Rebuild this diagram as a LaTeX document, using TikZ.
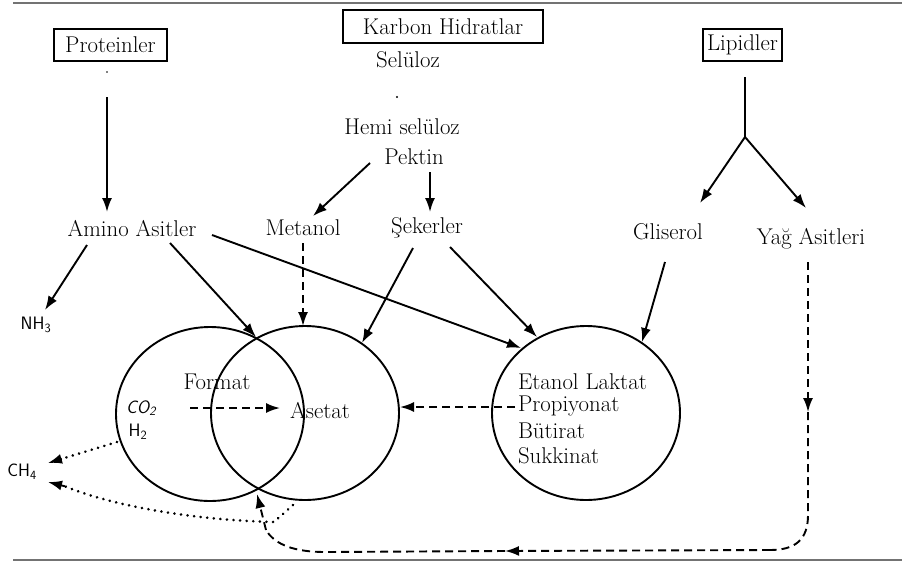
\documentclass[tikz,border=0pt]{standalone}
\usepackage{fontspec}
\usetikzlibrary{arrows.meta,shapes.geometric,calc}
\newcommand{\lblfont}{\fontsize{22.8}{26}\selectfont}
\newcommand{\chemfont}{\sffamily\fontsize{18}{21}\selectfont}
\begin{document}
\begin{tikzpicture}[x=1pt,y=-1pt,
  lbl/.style={font=\lblfont, inner sep=0pt, outer sep=0pt},
  chem/.style={font=\chemfont, inner sep=0pt, outer sep=0pt},
  srcbox/.style={draw, line width=1.3pt, font=\lblfont, inner sep=0pt, outer sep=0pt},
  pool/.style={draw, ellipse, line width=1.9pt, minimum width=188pt, minimum height=174pt, inner sep=0pt, outer sep=0pt},
  tip/.style={-{Latex[length=14pt,width=10pt]}},
  arr/.style={line width=1.9pt, tip},
  ln/.style={line width=1.9pt},
  dsh/.style={line width=1.9pt, dash pattern=on 8pt off 5pt},
  dot/.style={line width=2.8pt, line cap=round, dash pattern=on 0.1pt off 6.5pt},
  rule/.style={draw=black!55, line width=2pt}]
\useasboundingbox (0,0) rectangle (902,563);

% frame rules
\coordinate (rt1) at (13,2.5);  \coordinate (rt2) at (902,2.5);
\coordinate (rb1) at (13,560);  \coordinate (rb2) at (902,560);
\draw[rule] (rt1) -- (rt2);
\draw[rule] (rb1) -- (rb2);

% source boxes
\node[srcbox, minimum width=113pt, minimum height=32pt] (prot) at (110.5,45) {Proteinler};
\node[srcbox, minimum width=200pt, minimum height=33pt] (karb) at (443,26.5) {Karbon Hidratlar};
\node[srcbox, minimum width=79pt, minimum height=32pt] (lip) at (742.5,45) {Lipidler};

% carbohydrate list
\node[lbl] (sel) at (408,60) {Selüloz};
\node[lbl] (hemi) at (402,127) {Hemi selüloz};
\node[lbl] (pek) at (414,157) {Pektin};
\fill (397,97) circle (1.2pt);
\fill (107,72) circle (0.8pt);

% intermediates
\node[lbl] (amino) at (132,229) {Amino Asitler};
\node[lbl] (met) at (303,228) {Metanol};
\node[lbl] (sek) at (427,228) {Şekerler};
\node[lbl] (glis) at (668,232) {Gliserol};
\node[lbl] (yag) at (811,239) {Yağ Asitleri};
\node[chem] (nh3) at (36,325) {NH\textsubscript{3}};

% pools
\node[pool] (cfor) at (210,414) {};
\node[pool] (cace) at (305,413) {};
\node[pool] (cetn) at (586,413) {};

\node[lbl] (form) at (217,382) {Format};
\node[chem, font=\chemfont\slshape] (co2) at (141,408) {CO\textsubscript{2}};
\node[chem] (h2) at (138,432) {H\textsubscript{2}};
\node[lbl] (ase) at (320,411) {Asetat};
\node[lbl, anchor=west] (etl) at (518,382) {Etanol Laktat};
\node[lbl, anchor=west] (pro) at (518,406) {Propiyonat};
\node[lbl, anchor=west] (but) at (518,431) {Bütirat};
\node[lbl, anchor=west] (suk) at (518,456) {Sukkinat};
\node[chem] (ch4) at (22,472) {CH\textsubscript{4}};

% connector end points
\coordinate (pa) at (107,97);   \coordinate (pb) at (107,212);
\coordinate (la) at (745,77);   \coordinate (lf) at (745,137);
\coordinate (lg) at (700,203);  \coordinate (ly) at (806,208);
\coordinate (km1) at (370,163); \coordinate (km2) at (313,216);
\coordinate (ks1) at (430,172); \coordinate (ks2) at (430,212);
\coordinate (an1) at (87,245);  \coordinate (an2) at (45,310);
\coordinate (ax1) at (170,243); \coordinate (xtop) at (256,337);
\coordinate (ae1) at (212,235); \coordinate (ae2) at (521,348);
\coordinate (mt1) at (303,243); \coordinate (mt2) at (303,326);
\coordinate (sa1) at (413,248); \coordinate (sa2) at (362,343);
\coordinate (se1) at (450,247); \coordinate (se2) at (537,337);
\coordinate (ge1) at (665,262); \coordinate (ge2) at (642,342);
\coordinate (ca1) at (190,408); \coordinate (ca2) at (280,408);
\coordinate (ea1) at (515,407); \coordinate (ea2) at (400,407);
\coordinate (d1a) at (117,442); \coordinate (d1b) at (48,463);
\coordinate (d2a) at (293,505); \coordinate (d2b) at (274,522);
\coordinate (d2c) at (48,482);
\coordinate (yg1) at (808,262); \coordinate (yg2) at (808,412);
\coordinate (yg3) at (808,515); \coordinate (yg4) at (770,550);
\coordinate (yg5) at (505,551); \coordinate (yg6) at (325,552);
\coordinate (yg7) at (266,530); \coordinate (xbot) at (257,494);

% protein branch
\draw[arr] (pa) -- (pb);
\draw[arr] (an1) -- (an2);
\draw[arr] (ax1) -- (xtop);
\draw[arr] (ae1) -- (ae2);

% carbohydrate branch
\draw[arr] (km1) -- (km2);
\draw[arr] (ks1) -- (ks2);
\draw[dsh, tip] (mt1) -- (mt2);
\draw[arr] (sa1) -- (sa2);
\draw[arr] (se1) -- (se2);

% lipid branch
\draw[ln] (la) -- (lf);
\draw[arr] (lf) -- (lg);
\draw[arr] (lf) -- (ly);
\draw[arr] (ge1) -- (ge2);

% fatty acids back to the lower junction
\draw[dsh, tip] (yg1) -- (yg2);
\draw[dsh] (yg2) -- (yg3) .. controls (808,540) and (795,550) .. (yg4);
\draw[dsh, tip] (yg4) -- (yg5);
\draw[dsh] (yg5) -- (yg6) .. controls (295,552) and (275,545) .. (yg7);
\draw[dsh, tip] (yg7) -- (xbot);

% transfers between pools
\draw[dsh, tip] (ca1) -- (ca2);
\draw[dsh, tip] (ea1) -- (ea2);

% methane formation
\draw[dot] (d1a) -- ($(d1b)!0.2!(d1a)$);
\draw[line width=1.9pt, tip] ($(d1b)!0.2!(d1a)$) -- (d1b);
\draw[dot] (d2a) -- (d2b) .. controls (190,520) and (110,505) .. ($(d2c)+(17,4.3)$);
\draw[line width=1.9pt, tip] ($(d2c)+(17,4.3)$) -- (d2c);
\end{tikzpicture}
\end{document}
